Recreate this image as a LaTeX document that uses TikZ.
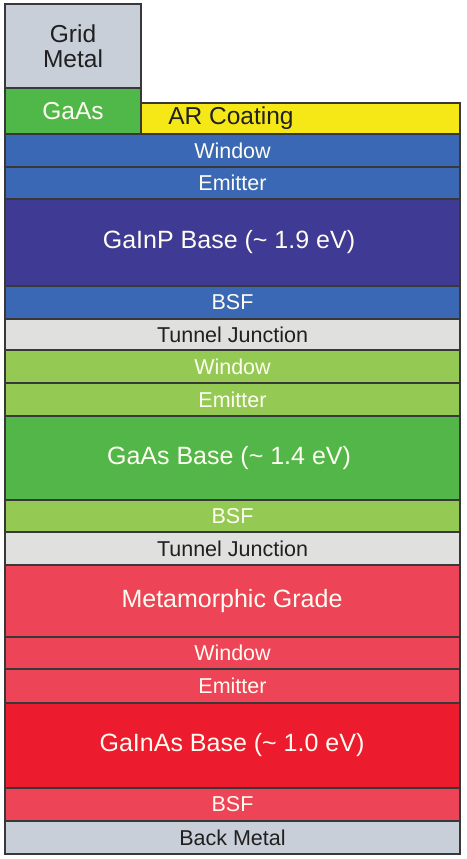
\documentclass[tikz,border=0pt]{standalone}
\usepackage{fontspec}
\setmainfont{Liberation Sans}
\definecolor{metal}{HTML}{C9CFD9}
\definecolor{gaasc}{HTML}{50B848}
\definecolor{arc}{HTML}{F6E816}
\definecolor{blue1}{HTML}{3A68B4}
\definecolor{blue2}{HTML}{3F3A94}
\definecolor{tunnel}{HTML}{E0E0DE}
\definecolor{green1}{HTML}{94CA54}
\definecolor{green2}{HTML}{52B748}
\definecolor{red1}{HTML}{EE4457}
\definecolor{red2}{HTML}{EC1B2E}
\definecolor{wtext}{HTML}{FFFDF2}
\definecolor{dtext}{HTML}{202020}
\definecolor{edge}{HTML}{383838}
\begin{document}
\begin{tikzpicture}[x=1pt,y=-1pt,
  layer/.style={draw=edge,line width=1.1pt},
  smalltxt/.style={font=\fontsize{21.5}{24}\selectfont,inner sep=0pt},
  bigtxt/.style={font=\fontsize{25}{28}\selectfont,inner sep=0pt},
  toptxt/.style={font=\fontsize{24.5}{28}\selectfont,inner sep=0pt,align=center}]
\useasboundingbox (0,0) rectangle (466,859);
% top parts
\draw[layer,fill=metal] (5,4) rectangle (141,88);
\node[toptxt,text=dtext] (grid) at (73,46) {Grid\\[-3pt]Metal};
\draw[layer,fill=gaasc] (5,88) rectangle (141,134);
\node[toptxt,text=wtext] (gaas) at (73,111) {GaAs};
\draw[layer,fill=arc] (141,103) rectangle (460,134);
\node[toptxt,text=dtext] (ar) at (231,118.5) {AR Coating};
% layers
\draw[layer,fill=blue1] (5,134) rectangle (460,167);
\node[smalltxt,text=wtext] (w1) at (232.5,150.5) {Window};
\draw[layer,fill=blue1] (5,167) rectangle (460,199);
\node[smalltxt,text=wtext] (e1) at (232.5,183) {Emitter};
\draw[layer,fill=blue2] (5,199) rectangle (460,286);
\node[bigtxt,text=wtext] (b1) at (229,242.5) {GaInP Base (\textasciitilde{} 1.9 eV)};
\draw[layer,fill=blue1] (5,286) rectangle (460,319);
\node[smalltxt,text=wtext] (s1) at (232.5,302.5) {BSF};
\draw[layer,fill=tunnel] (5,319) rectangle (460,350);
\node[smalltxt,text=dtext] (t1) at (232.5,334.5) {Tunnel Junction};
\draw[layer,fill=green1] (5,350) rectangle (460,383);
\node[smalltxt,text=wtext] (w2) at (232.5,366.5) {Window};
\draw[layer,fill=green1] (5,383) rectangle (460,416);
\node[smalltxt,text=wtext] (e2) at (232.5,399.5) {Emitter};
\draw[layer,fill=green2] (5,416) rectangle (460,500);
\node[bigtxt,text=wtext] (b2) at (229,458) {GaAs Base (\textasciitilde{} 1.4 eV)};
\draw[layer,fill=green1] (5,500) rectangle (460,532);
\node[smalltxt,text=wtext] (s2) at (232.5,516) {BSF};
\draw[layer,fill=tunnel] (5,532) rectangle (460,565);
\node[smalltxt,text=dtext] (t2) at (232.5,548.5) {Tunnel Junction};
\draw[layer,fill=red1] (5,565) rectangle (460,637);
\node[bigtxt,text=wtext] (mg) at (232,601) {Metamorphic Grade};
\draw[layer,fill=red1] (5,637) rectangle (460,669);
\node[smalltxt,text=wtext] (w3) at (232.5,653) {Window};
\draw[layer,fill=red1] (5,669) rectangle (460,703);
\node[smalltxt,text=wtext] (e3) at (232.5,686) {Emitter};
\draw[layer,fill=red2] (5,703) rectangle (460,788);
\node[bigtxt,text=wtext] (b3) at (232,745.5) {GaInAs Base (\textasciitilde{} 1.0 eV)};
\draw[layer,fill=red1] (5,788) rectangle (460,821);
\node[smalltxt,text=wtext] (s3) at (232.5,804.5) {BSF};
\draw[layer,fill=metal] (5,821) rectangle (460,854);
\node[smalltxt,text=dtext] (bm) at (232.5,837.5) {Back Metal};
\end{tikzpicture}
\end{document}
